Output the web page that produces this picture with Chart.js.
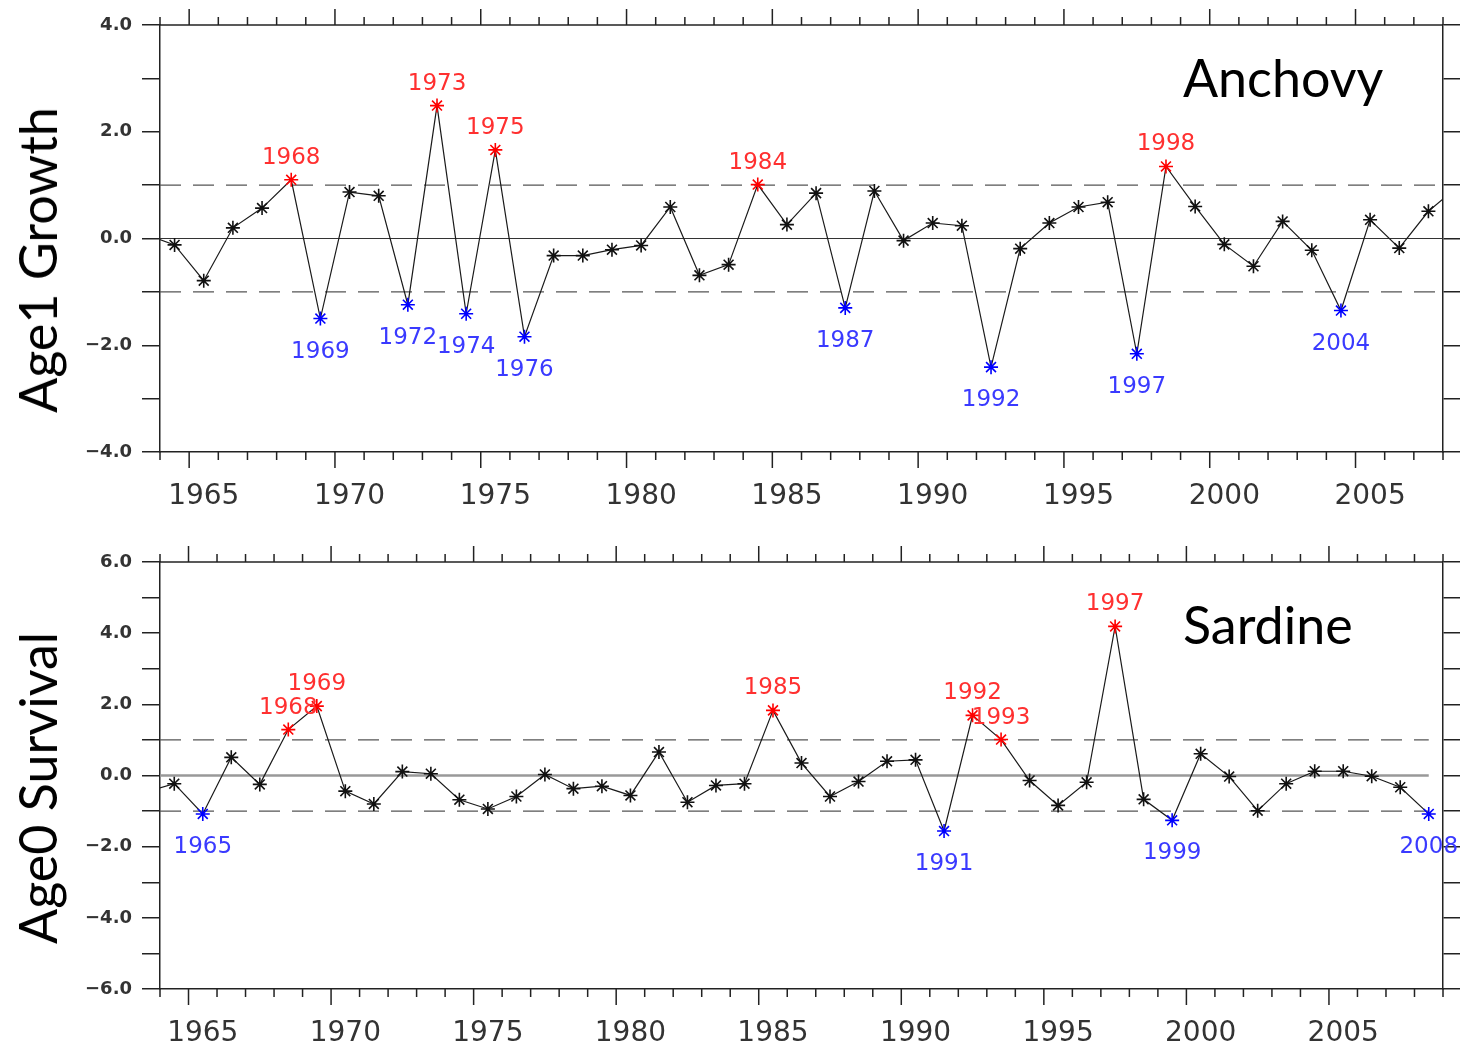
<!DOCTYPE html>
<html>
<head>
<meta charset="utf-8">
<script src="https://cdn.jsdelivr.net/npm/chart.js@4.4.1/dist/chart.umd.min.js"></script>
<style>
  body { margin: 0; background: #fff; }
  #page { position: relative; width: 1464px; height: 1047px; overflow: hidden; background: #fff; }
  canvas { position: absolute; left: 0; }
  #anchovyChart { top: 0; }
  #sardineChart { top: 520px; }
  .ytitle {
    position: absolute; font: 52px Lato, sans-serif; line-height: 1; color: #000;
    white-space: nowrap; transform: translate(-50%, -50%) rotate(-90deg);
  }
  .tag { position: absolute; font: 52px Lato, sans-serif; line-height: 1; color: #000; white-space: nowrap; }
</style>
</head>
<body>
<div id="page">
  <canvas id="anchovyChart" width="1464" height="520"></canvas>
  <canvas id="sardineChart" width="1464" height="527"></canvas>
  <div class="ytitle" style="left:37px; top:260px;">Age1 Growth</div>
  <div class="ytitle" style="left:37px; top:788px;">Age0 Survival</div>
  <div class="tag" style="left:1183px; top:51px;">Anchovy</div>
  <div class="tag" style="left:1183px; top:598px;">Sardine</div>
</div>
<script>
// years of both records (1963 and 2008 partly fall outside the plotted window)
const years = [1963, 1964, 1965, 1966, 1967, 1968, 1969, 1970, 1971, 1972,
               1973, 1974, 1975, 1976, 1977, 1978, 1979, 1980, 1981, 1982,
               1983, 1984, 1985, 1986, 1987, 1988, 1989, 1990, 1991, 1992,
               1993, 1994, 1995, 1996, 1997, 1998, 1999, 2000, 2001, 2002,
               2003, 2004, 2005, 2006, 2007, 2008];

// anchovy age-1 growth anomaly (standardised)
const anchovyGrowth = [0.08, -0.12, -0.79, 0.20, 0.57, 1.10, -1.50, 0.87, 0.80, -1.24,
                       2.49, -1.41, 1.66, -1.84, -0.32, -0.32, -0.21, -0.13, 0.59, -0.69,
                       -0.49, 1.01, 0.26, 0.85, -1.30, 0.89, -0.04, 0.29, 0.24, -2.41,
                       -0.19, 0.29, 0.59, 0.68, -2.16, 1.35, 0.60, -0.11, -0.52, 0.32,
                       -0.22, -1.35, 0.35, -0.18, 0.51, 0.97];

// sardine age-0 survival anomaly (standardised)
const sardineSurvival = [-0.47, -0.23, -1.08, 0.51, -0.25, 1.29, 1.95, -0.44, -0.80, 0.11,
                         0.05, -0.68, -0.94, -0.59, 0.03, -0.37, -0.30, -0.56, 0.66, -0.75,
                         -0.28, -0.23, 1.83, 0.35, -0.59, -0.17, 0.40, 0.44, -1.56, 1.69,
                         1.01, -0.14, -0.84, -0.19, 4.19, -0.67, -1.26, 0.61, -0.03, -0.99,
                         -0.23, 0.12, 0.12, -0.02, -0.33, -1.08];

const threshold = 1;          // +/- 1 sd marks an anomalous year
const refLevels = [-1, 0, 1]; // dashed +/-1, solid zero

const anchovyRange = { xMin: 1963.5, xMax: 2007.5, yMin: -4, yMax: 4 };
const sardineRange = { xMin: 1963.5, xMax: 2008.5, yMin: -6, yMax: 6 };

const AXIS = '#222';
const HI = '#ff0000', LO = '#0000ff';

function fmtY(v) {
    if (v % 2 !== 0) return '';
    return (v < 0 ? '\u2212' : '') + Math.abs(v).toFixed(1);
}

function markerColor(v) {
    if (v > threshold) return HI;
    if (v < -threshold) return LO;
    return '#111';
}

// half-year tick positions, labels sit on the whole years
function halfYearTicks(scale) {
    const ticks = [];
    for (let v = scale.min; v <= scale.max + 1e-6; v += 1) ticks.push({ value: v });
    scale.ticks = ticks;
}

// frame, outward tick marks on top/bottom, reference lines, year labels
const panelPlugin = {
    id: 'panel',
    beforeDatasetsDraw(chart, args, opts) {
        const { ctx, chartArea: a, scales: { x, y } } = chart;
        const x0 = Math.max(a.left, x.getPixelForValue(opts.years[0]));
        const x1 = Math.min(a.right, x.getPixelForValue(opts.years[opts.years.length - 1]));
        ctx.save();
        ctx.beginPath();
        ctx.rect(a.left, a.top, a.right - a.left, a.bottom - a.top);
        ctx.clip();
        refLevels.forEach(lv => {
            const py = y.getPixelForValue(lv);
            ctx.beginPath();
            if (lv === 0) {
                ctx.setLineDash([]);
                ctx.strokeStyle = opts.zeroColor;
                ctx.lineWidth = opts.zeroWidth;
            } else {
                ctx.setLineDash([21, 12]);
                ctx.strokeStyle = '#555';
                ctx.lineWidth = 1.4;
            }
            ctx.moveTo(x0, py);
            ctx.lineTo(x1, py);
            ctx.stroke();
        });
        ctx.restore();
    },
    afterDatasetsDraw(chart, args, opts) {
        const { ctx, chartArea: a, scales: { x } } = chart;
        ctx.save();
        // top border
        ctx.strokeStyle = AXIS;
        ctx.lineWidth = 1.5;
        ctx.beginPath();
        ctx.moveTo(a.left, a.top);
        ctx.lineTo(a.right, a.top);
        ctx.stroke();
        // x tick marks, outward on both edges
        x.ticks.forEach(t => {
            const px = x.getPixelForValue(t.value);
            const len = Math.abs(((t.value + 0.5) % 5)) < 1e-6 ? 16 : 8;
            ctx.beginPath();
            ctx.moveTo(px, a.bottom);
            ctx.lineTo(px, a.bottom + len);
            ctx.moveTo(px, a.top);
            ctx.lineTo(px, a.top - len);
            ctx.stroke();
        });
        // anomaly year labels
        const meta = chart.getDatasetMeta(0);
        ctx.font = '23px "DejaVu Sans"';
        ctx.textAlign = 'center';
        ctx.textBaseline = 'alphabetic';
        meta.data.forEach((pt, i) => {
            const v = opts.values[i];
            if (pt.x < a.left || pt.x > a.right) return;
            if (v > threshold) {
                ctx.fillStyle = '#ff3030';
                ctx.fillText(String(opts.years[i]), pt.x, pt.y - 16);
            } else if (v < -threshold) {
                ctx.fillStyle = '#3a3aff';
                ctx.fillText(String(opts.years[i]), pt.x, pt.y + 39);
            }
        });
        ctx.restore();
    }
};

function makePanel(canvasId, values, range, layout) {
    const ctx = document.getElementById(canvasId).getContext('2d');
    const colors = values.map(markerColor);
    return new Chart(ctx, {
        type: 'line',
        data: {
            datasets: [{
                data: years.map((yr, i) => ({ x: yr, y: values[i] })),
                borderColor: '#1a1a1a',
                borderWidth: 1.2,
                tension: 0,
                pointStyle: 'star',
                pointRadius: 7,
                pointBorderWidth: 1.6,
                pointBorderColor: colors,
                pointBackgroundColor: colors,
                clip: 0
            }]
        },
        options: {
            responsive: false,
            animation: false,
            devicePixelRatio: 1,
            layout: { autoPadding: false, padding: { top: layout.top, left: 0, right: 0, bottom: 0 } },
            plugins: {
                legend: { display: false },
                tooltip: { enabled: false },
                panel: {
                    years: years,
                    values: values,
                    zeroColor: layout.zeroColor,
                    zeroWidth: layout.zeroWidth
                }
            },
            scales: {
                x: {
                    type: 'linear',
                    position: 'bottom',
                    min: range.xMin,
                    max: range.xMax,
                    afterBuildTicks: halfYearTicks,
                    afterFit: s => {
                        s.height = layout.xHeight;
                        s.paddingLeft = 0;
                        s.paddingRight = 0;
                    },
                    border: { display: true, color: AXIS, width: 1.5 },
                    grid: { display: true, drawOnChartArea: false, drawTicks: false },
                    ticks: {
                        autoSkip: false,
                        maxRotation: 0,
                        padding: 28,
                        labelOffset: layout.labelOffset,
                        color: '#333',
                        font: { family: 'DejaVu Sans', size: 28 },
                        callback: v => {
                            const yr = Math.round(v + 0.5);
                            return yr % 5 === 0 ? String(yr) : '';
                        }
                    }
                },
                y: {
                    type: 'linear',
                    position: 'left',
                    min: range.yMin,
                    max: range.yMax,
                    afterFit: s => { s.width = 160; },
                    border: { display: true, color: AXIS, width: 1.5 },
                    grid: { drawOnChartArea: false, tickLength: 18, color: AXIS, lineWidth: 1.5 },
                    ticks: {
                        stepSize: 1,
                        padding: 10,
                        color: '#333',
                        font: { family: 'DejaVu Sans', size: 18, weight: 'bold' },
                        callback: fmtY
                    }
                },
                yRight: {
                    type: 'linear',
                    position: 'right',
                    min: range.yMin,
                    max: range.yMax,
                    afterFit: s => { s.width = 21; },
                    border: { display: true, color: AXIS, width: 1.5 },
                    grid: { drawOnChartArea: false, tickLength: 17, color: AXIS, lineWidth: 1.5 },
                    ticks: { stepSize: 1, display: false }
                }
            }
        },
        plugins: [panelPlugin]
    });
}

makePanel('anchovyChart', anchovyGrowth, anchovyRange, {
    top: 25, xHeight: 68, labelOffset: 14.6, zeroColor: '#333', zeroWidth: 1.2
});
makePanel('sardineChart', sardineSurvival, sardineRange, {
    top: 42, xHeight: 58, labelOffset: 14.25, zeroColor: '#999', zeroWidth: 2.5
});
</script>
</body>
</html>
